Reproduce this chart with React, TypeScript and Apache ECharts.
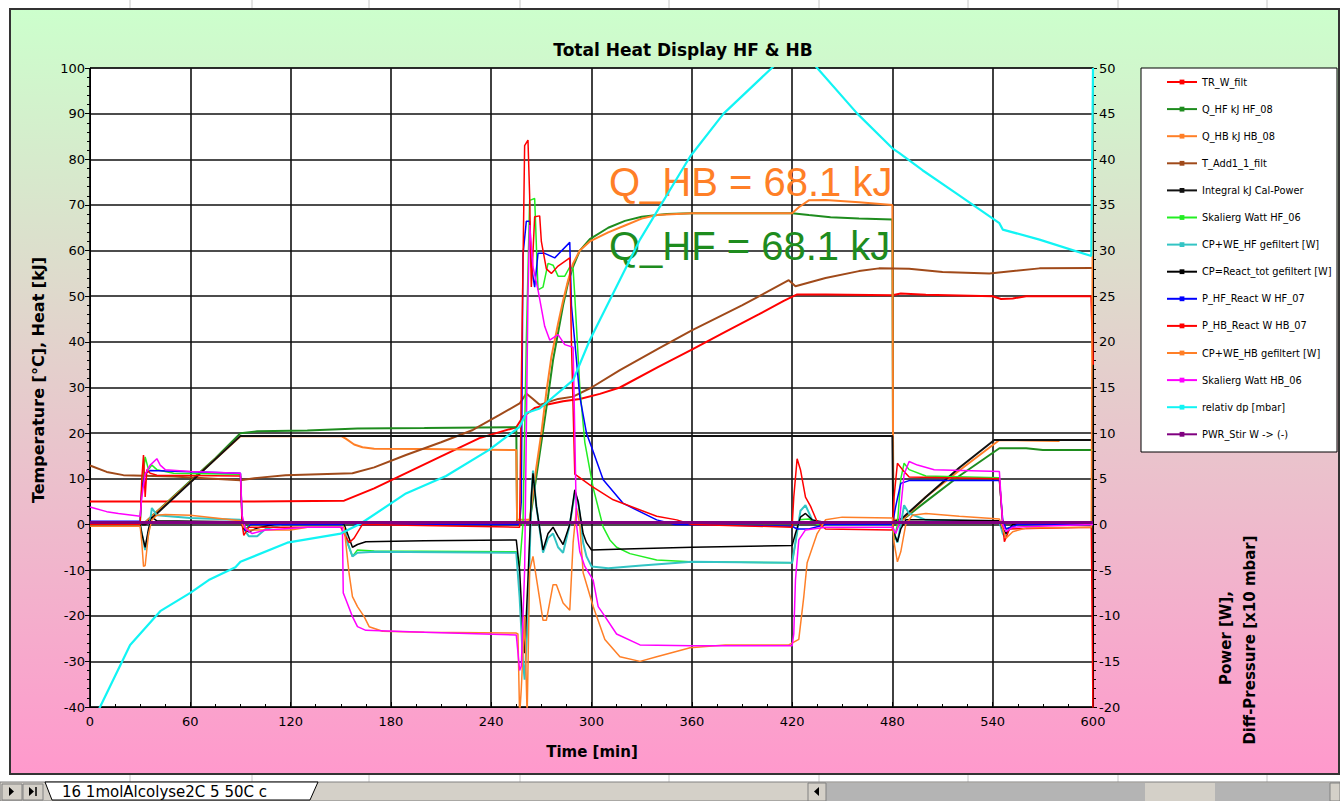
import React, { useEffect, useRef } from "react";
import * as echarts from "echarts";

// ---------- DATA (time in min) ----------
const legendNames = [
  "TR_W_filt",
  "Q_HF kJ HF_08",
  "Q_HB kJ HB_08",
  "T_Add1_1_filt",
  "Integral kJ Cal-Power",
  "Skalierg Watt HF_06",
  "CP+WE_HF gefiltert [W]",
  "CP=React_tot gefiltert [W]",
  "P_HF_React W HF_07",
  "P_HB_React W HB_07",
  "CP+WE_HB gefiltert [W]",
  "Skalierg Watt HB_06",
  "relativ dp [mbar]",
  "PWR_Stir W -> (-)",
];

// left axis: temperature [°C] / heat [kJ]
const trWFilt = [[0,5],[30,5],[90,5],[152,5.2],[170,7.9],[190,11.4],[210,14.9],[233,18.9],[255,21.3],[259,23.6],[266,25.5],[273,26.2],[283,27],[293,27.5],[305,28.6],[317,30],[340,34.5],[360,38.3],[380,42.2],[400,46],[415,49],[423,50.4],[440,50.4],[480,50.2],[485,50.6],[500,50.3],[540,50],[545,49.4],[552,49.5],[560,50],[599,50],[600,35]];
const qHF = [[0,0],[31,0],[33,0.5],[45,4.5],[60,9.5],[75,14.5],[90,20],[100,20.4],[130,20.6],[160,21],[200,21.1],[255,21.3],[255.5,0],[263,0.5],[266,8],[270,18],[274,28],[277,36],[280,42],[283,48],[286,53],[289,56.5],[293,60],[299,62.5],[310,65],[320,66.5],[330,67.4],[345,68],[360,68.2],[390,68.2],[420,68.2],[430,67.8],[443,67.3],[460,67],[480,66.8],[480.5,0],[486,1],[500,5],[520,10.6],[544,16.7],[560,16.7],[570,16.3],[600,16.3]];
const qHB = [[0,0],[31,0],[33,0.4],[60,9.3],[90,19.3],[150,19.4],[153,18.8],[158,17.5],[163,16.9],[170,16.6],[200,16.5],[255,16.3],[255.5,1],[263,1],[266,10],[270,20],[273,29],[276,36.7],[280,44],[283,49],[286,53.5],[289,57.2],[293,60],[299,62],[310,64],[320,65.5],[330,67],[339,67.8],[360,68.2],[420,68.2],[424,69.5],[430,71],[440,71.1],[460,70.6],[480,70],[480.5,1],[486,1],[500,6],[520,11.8],[544,18.5],[560,18.4],[580,18.3]];
const tAdd1 = [[0,12.9],[10,11.5],[20,10.8],[50,10.5],[90,9.7],[100,10.2],[117,10.8],[157,11.2],[170,12.5],[189,15.2],[210,18],[229,20.7],[245,24],[257,26.5],[261,28.7],[265,27.5],[269,26.2],[280,27.5],[289,28],[300,30],[317,33.8],[340,38.5],[360,42.5],[390,48],[418,53.5],[422,52.2],[440,54],[460,55.5],[472,56.1],[490,56],[510,55.3],[538,55],[568,56.1],[600,56.2]];
const integralKJ = [[0,0],[33,0],[60,9.2],[90,19.4],[200,19.4],[300,19.4],[400,19.4],[480,19.4],[480.5,0.5],[486,1.4],[500,6],[520,12.4],[541,18.5],[570,18.5],[600,18.5]];

// right axis: power [W], diff-pressure [x10 mbar]
const skalHF = [[0,0],[30,0],[31,4],[33,7.4],[35,6],[37,6.5],[40,6],[50,5.6],[90,5.5],[91,0.5],[93,-0.5],[96,0],[152,0],[154,-2],[157,-3.5],[160,-2.8],[170,-2.9],[255,-3],[257,-4.6],[259,0],[261,20],[263,35.5],[266,35.7],[268,25.7],[271,26],[274,28.6],[277,28.4],[280,27.2],[284,27.2],[287,28.2],[289,28],[290,25],[293,15],[296,9],[301,4],[307,-0.3],[311,-1.7],[315,-2.5],[323,-3.2],[339,-3.9],[359,-4.1],[420,-4.2],[422,-2],[424,0.5],[430,0.6],[435,0],[480,0],[481,-1.7],[483,0],[485,5],[487,6.7],[490,6],[500,5.3],[544,5.1],[546,0],[548,-0.5],[555,0],[600,0]];
const cpweHF = [[0,0],[30,0],[31,-1],[33,-2.8],[35,-1],[37,1.8],[40,1],[60,0.7],[90,0.5],[92,-0.5],[95,-1.3],[100,-1.3],[105,-0.5],[115,0],[152,0],[154,-2],[157,-3.5],[160,-3.1],[170,-3],[255,-3.1],[257,-8],[259,-15],[260,-17],[262,-10],[264,3],[265,5.9],[267,2],[271,-3.1],[274,-1.5],[277,-1],[280,-2.5],[283,-3.1],[287,0],[290,3.4],[292,2.5],[295,-2],[297,-3.5],[300,-4.6],[310,-4.8],[330,-4.5],[360,-4.1],[420,-4.2],[422,-2],[425,1.5],[428,2.1],[432,0.5],[440,0],[480,0],[481,-1],[483,-2],[485,0],[487,2.1],[490,1.2],[500,0.5],[544,0.3],[546,-1],[547,-1.3],[550,-0.5],[555,0],[600,0]];
const cpReact = [[0,0],[30,0],[31,-1],[33,-2.5],[35,-0.5],[37,0.8],[40,0.4],[90,0.3],[92,-0.5],[95,-0.8],[100,-0.4],[110,0],[152,0],[154,-1],[157,-2.5],[160,-2.2],[165,-1.9],[200,-1.8],[255,-1.7],[257,-5],[259,-12],[260,-14.1],[262,-6],[264,3],[265,5.6],[267,2],[271,-2.8],[274,-1],[277,-0.3],[280,-1.3],[283,-2.2],[287,0],[290,3.8],[292,2.5],[295,-1],[297,-2],[300,-2.8],[320,-2.7],[360,-2.5],[420,-2.3],[422,-1],[425,0.8],[428,1.2],[432,0.5],[440,0.2],[480,0.2],[481,-1],[483,-1.9],[485,-0.5],[488,0.5],[500,0.5],[544,0.4],[546,-0.5],[548,-1],[552,0],[600,0]];
const pHF = [[0,0.35],[30,0.35],[31,4],[33,5.6],[36,5.9],[90,5.6],[91,0.5],[93,-0.7],[96,0],[150,0],[155,0.3],[160,0],[257,0],[258,2.5],[259,29.5],[261,33.2],[263,33.2],[264,28.3],[266,26],[268,29.7],[272,29.7],[278,29.2],[287,30.9],[288,24],[290,20],[293,14],[297,10],[301,8],[307,4.9],[319,2.3],[339,0.5],[350,0],[420,-0.2],[423,-0.5],[430,-0.5],[440,0],[480,0],[482,2],[485,4.5],[490,4.8],[544,4.8],[546,0.5],[548,-0.5],[555,0],[600,0]];
const pHB = [[0,0],[30,0],[31,5],[32,7.6],[33,3],[34,6],[36,5.6],[40,5.4],[90,5.3],[91,0],[92,-1.2],[95,-0.3],[150,-0.3],[152,-1],[155,-2],[158,-1.5],[163,0],[257,-0.3],[258,15],[260,41.5],[262,42.1],[263,36],[264,26],[266,33.7],[269,33.8],[270,31],[273,28],[276,27.5],[280,28.3],[287,29.2],[288,20],[290,5.5],[300,4.2],[313,2.7],[339,0.9],[351,0.5],[360,0],[420,-0.3],[421,3],[423,7.2],[425,6],[428,3],[431,2],[435,0.3],[440,-0.5],[480,-0.6],[481,3],[483,6.7],[486,6],[490,5.2],[544,5],[546,0],[547,-1.9],[550,-0.5],[599,-0.3],[600,-21]];
const cpweHB = [[0,-0.2],[30,-0.2],[31,-2],[32,-4.6],[33,-4.5],[35,-1],[37,0.5],[40,1],[45,1.1],[60,1],[75,0.7],[90,0.4],[92,-0.3],[95,-0.6],[120,-0.6],[130,-0.3],[152,-0.3],[153,-2],[155,-5.4],[157,-7.9],[160,-9],[164,-10.1],[167,-11.2],[175,-11.7],[200,-11.8],[255,-11.9],[256,-12],[257,-21],[258,-18],[260,-10],[261.5,-21],[263,-5],[265,-3.5],[271,-10.5],[273,-10.5],[277,-6.6],[279,-6.6],[283,-8.6],[287,-9.4],[289,-2],[291,1.8],[293,0],[295,-5.3],[301,-9],[308,-12.6],[317,-14.5],[329,-15],[339,-14.5],[359,-13.5],[380,-13.2],[418,-13.2],[424,-12.6],[427,-7.9],[429,-4.2],[435,-1],[440,0.5],[450,0.8],[480,0.7],[481,-2],[483,-4.1],[485,-3],[488,0],[492,1],[500,1.2],[520,0.9],[544,0.6],[546,-0.5],[548,-1.5],[552,-0.8],[560,-0.4],[599,-0.3],[600,50]];
const skalHB = [[0,1.9],[10,1.4],[17,1.2],[30,0.9],[31,3],[33,5.5],[36,6.5],[40,7.2],[42,6.5],[45,6],[60,5.8],[90,5.6],[91,1],[93,-0.5],[97,-1],[105,-0.6],[130,-0.3],[151,-0.3],[151.5,-7.5],[153,-8.2],[157,-10.1],[160,-11.2],[165,-11.6],[200,-11.8],[255,-12.1],[257,-16],[258,-15.5],[260,-5],[262,25],[263,32.8],[265,28.2],[268,25.7],[272,21.7],[275,20.2],[280,20.8],[284,19.7],[289,19.4],[290,10],[291,0],[293,-3],[296,-4.6],[301,-6.1],[304,-9],[307,-9.8],[315,-12],[329,-13.2],[360,-13.3],[420,-13.3],[421,-12],[422,-6.1],[424,-1.7],[428,-0.6],[440,-0.3],[480,-0.3],[482,-1],[484,0],[487,5.5],[490,6.9],[495,6.5],[505,6],[544,5.8],[546,0],[548,-0.8],[552,-0.3],[600,0]];
const relDp = [[0,-22.3],[6,-20],[24,-13.2],[42,-9.5],[60,-7.5],[71,-6.1],[87,-4.7],[90,-4.1],[118,-2],[150,-1],[162,0.1],[189,3.4],[213,5.3],[239,8.2],[257,10.7],[261,12.2],[269,12.7],[289,15.8],[299,20.2],[329,31.2],[359,40.3],[379,45],[409,50.2],[423,52.5],[435,50],[459,45],[480,41.2],[484,40.7],[498,38.8],[518,36.3],[544,33],[546,32.3],[568,31.2],[599,29.4],[600,50]];
const pwrStir = [[0,0.2],[150,0.2],[300,0.2],[450,0.2],[600,0.2]];

const seriesData = [trWFilt, qHF, qHB, tAdd1, integralKJ, skalHF, cpweHF, cpReact, pHF, pHB, cpweHB, skalHB, relDp, pwrStir];
const seriesColors = ["#ff0000","#1e8c1e","#ff7f27","#a04a1a","#111111","#22ee22","#33c4c4","#000000","#0000ff","#ff0000","#ff7f27","#ff00ff","#11f4f4","#800080"];
const seriesAxis = [0,0,0,0,0,1,1,1,1,1,1,1,1,1];
const seriesWidth = [2,2,2,2,2,1.5,2,1.5,1.5,1.5,1.5,1.5,2.2,3];

const xTicks = { min: 0, max: 600, step: 60 };
const leftTicks = { min: -40, max: 100, step: 10 };
const rightTicks = { min: -20, max: 50, step: 5 };

const FONT = "'DejaVu Sans', Verdana, sans-serif";
const ARIAL = "'Liberation Sans', Arial, sans-serif";

export default function App() {
  const ref = useRef<HTMLDivElement>(null);
  useEffect(() => {
    const chart = echarts.init(ref.current!, null, { renderer: "svg" });
    const colLines = [130, 252, 369, 520, 669, 819, 968, 1118, 1267];
    const graphic: any[] = [
      { type: "rect", z: -100, shape: { x: 10, y: 9, width: 1329, height: 765 },
        style: { fill: new echarts.graphic.LinearGradient(0, 0, 0, 1, [
          { offset: 0, color: "#ccffcc" }, { offset: 1, color: "#ff99cc" }]), stroke: "#333", lineWidth: 2 } },
      ...colLines.map((x) => ({ type: "line", z: -100, shape: { x1: x, y1: 0, x2: x, y2: 8 }, style: { stroke: "#c8c8c8", lineWidth: 1 } })),
      ...colLines.map((x) => ({ type: "line", z: -100, shape: { x1: x, y1: 775, x2: x, y2: 782 }, style: { stroke: "#c8c8c8", lineWidth: 1 } })),
      // legend box
      { type: "rect", z: 3, shape: { x: 1141, y: 68, width: 196, height: 384 }, style: { fill: "#ffffff", stroke: "#000", lineWidth: 1 } },
      // titles
      { type: "text", z: 5, style: { text: "Total Heat Display HF & HB", x: 683, y: 50, align: "center", verticalAlign: "middle", font: `bold 17px ${FONT}`, fill: "#000" } },
      { type: "text", z: 5, rotation: Math.PI / 2, x: 38, y: 380, style: { text: "Temperature [°C], Heat [kJ]", x: 0, y: 0, align: "center", verticalAlign: "middle", font: `bold 16px ${FONT}`, fill: "#000" } },
      { type: "text", z: 5, style: { text: "Time [min]", x: 592, y: 752, align: "center", verticalAlign: "middle", font: `bold 15px ${FONT}`, fill: "#000" } },
      { type: "text", z: 5, rotation: Math.PI / 2, x: 1226, y: 638, style: { text: "Power [W],", x: 0, y: 0, align: "center", verticalAlign: "middle", font: `bold 15px ${FONT}`, fill: "#000" } },
      { type: "text", z: 5, rotation: Math.PI / 2, x: 1250, y: 640, style: { text: "Diff-Pressure [x10 mbar]", x: 0, y: 0, align: "center", verticalAlign: "middle", font: `bold 15px ${FONT}`, fill: "#000" } },
      // annotations
      { type: "text", z: 1, style: { text: "Q_HB = 68.1 kJ", x: 609, y: 182, align: "left", verticalAlign: "middle", font: `40px ${ARIAL}`, fill: "#ff7f27" } },
      { type: "text", z: 1, style: { text: "Q_HF = 68.1 kJ", x: 609, y: 246, align: "left", verticalAlign: "middle", font: `40px ${ARIAL}`, fill: "#1e8c1e" } },
      // bottom sheet tab bar
      { type: "rect", z: -90, shape: { x: 0, y: 782, width: 1340, height: 19 }, style: { fill: "#d4d0c8", stroke: "#808080", lineWidth: 1 } },
      { type: "rect", z: -89, shape: { x: 2, y: 784, width: 20, height: 16 }, style: { fill: "#d4d0c8", stroke: "#808080" } },
      { type: "polygon", z: -88, shape: { points: [[9, 787], [9, 796], [14, 791.5]] }, style: { fill: "#000" } },
      { type: "rect", z: -89, shape: { x: 23, y: 784, width: 20, height: 16 }, style: { fill: "#d4d0c8", stroke: "#808080" } },
      { type: "polygon", z: -88, shape: { points: [[29, 787], [29, 796], [34, 791.5]] }, style: { fill: "#000" } },
      { type: "line", z: -88, shape: { x1: 36, y1: 787, x2: 36, y2: 796 }, style: { stroke: "#000", lineWidth: 1.5 } },
      { type: "polygon", z: -88, shape: { points: [[45, 782], [52, 800], [310, 800], [318, 782]] }, style: { fill: "#ffffff", stroke: "#000", lineWidth: 1 } },
      { type: "text", z: -87, style: { text: "16 1molAlcolyse2C 5 50C c", x: 62, y: 792, align: "left", verticalAlign: "middle", font: `15px ${FONT}`, fill: "#000" } },
      { type: "rect", z: -89, shape: { x: 808, y: 783, width: 532, height: 18 }, style: { fill: "#b4b4b4" } },
      { type: "rect", z: -88, shape: { x: 808, y: 783, width: 18, height: 18 }, style: { fill: "#d4d0c8", stroke: "#808080" } },
      { type: "polygon", z: -87, shape: { points: [[819, 787], [819, 796], [814, 791.5]] }, style: { fill: "#000" } },
      { type: "rect", z: -88, shape: { x: 1145, y: 783, width: 70, height: 18 }, style: { fill: "#d4d0c8" } },
      { type: "rect", z: -88, shape: { x: 1330, y: 783, width: 10, height: 18 }, style: { fill: "#d4d0c8", stroke: "#808080" } },
    ];

    const option: any = {
      animation: false,
      backgroundColor: "#ffffff",
      graphic,
      grid: { left: 90, top: 68, width: 1003, height: 639, show: true, backgroundColor: "#ffffff", borderColor: "#000", borderWidth: 1 },
      legend: {
        orient: "vertical", left: 1161, top: 71, itemWidth: 30, itemHeight: 6, itemGap: 15.1,
        selectedMode: false, z: 6,
        textStyle: { fontSize: 9.8, lineHeight: 12, fontFamily: FONT, color: "#000" },
        data: legendNames,
      },
      xAxis: {
        type: "value", min: xTicks.min, max: xTicks.max, interval: xTicks.step,
        axisLine: { show: true, onZero: false, lineStyle: { color: "#000", width: 1 } },
        axisTick: { show: true, inside: true, length: 5, lineStyle: { color: "#000" } },
        minorTick: { show: true, splitNumber: 4, length: 3, lineStyle: { color: "#000" } },
        splitLine: { show: true, lineStyle: { color: "#111", width: 1.6 } },
        axisLabel: { fontSize: 13, fontFamily: FONT, color: "#000", margin: 8 },
      },
      yAxis: [
        {
          type: "value", position: "left", min: leftTicks.min, max: leftTicks.max, interval: leftTicks.step,
          axisLine: { show: true, onZero: false, lineStyle: { color: "#000", width: 1 } },
          axisTick: { show: true, length: 5, lineStyle: { color: "#000" } },
          minorTick: { show: true, splitNumber: 5, length: 3, lineStyle: { color: "#000" } },
          splitLine: { show: true, lineStyle: { color: "#111", width: 1.6 } },
          axisLabel: { fontSize: 13, fontFamily: FONT, color: "#000", margin: 5 },
        },
        {
          type: "value", position: "right", min: rightTicks.min, max: rightTicks.max, interval: rightTicks.step,
          axisLine: { show: true, onZero: false, lineStyle: { color: "#000", width: 1 } },
          axisTick: { show: true, length: 4, lineStyle: { color: "#000" } },
          minorTick: { show: true, splitNumber: 5, length: 3, lineStyle: { color: "#000" } },
          splitLine: { show: false },
          axisLabel: { fontSize: 13, fontFamily: FONT, color: "#000", margin: 6 },
        },
      ],
      series: legendNames.map((name, i) => ({
        name, type: "line", yAxisIndex: seriesAxis[i], data: seriesData[i],
        showSymbol: false, symbol: "rect", symbolSize: 4, clip: true,
        color: seriesColors[i],
        lineStyle: { color: seriesColors[i], width: seriesWidth[i] },
        itemStyle: { color: seriesColors[i] },
        z: 2 + i * 0.01,
      })),
    };
    chart.setOption(option);
    return () => chart.dispose();
  }, []);
  return (
    <div style={{ position: "fixed", left: 0, top: 0, width: 1340, height: 801, background: "#fff" }}>
      <div ref={ref} style={{ width: 1340, height: 801 }} />
    </div>
  );
}
